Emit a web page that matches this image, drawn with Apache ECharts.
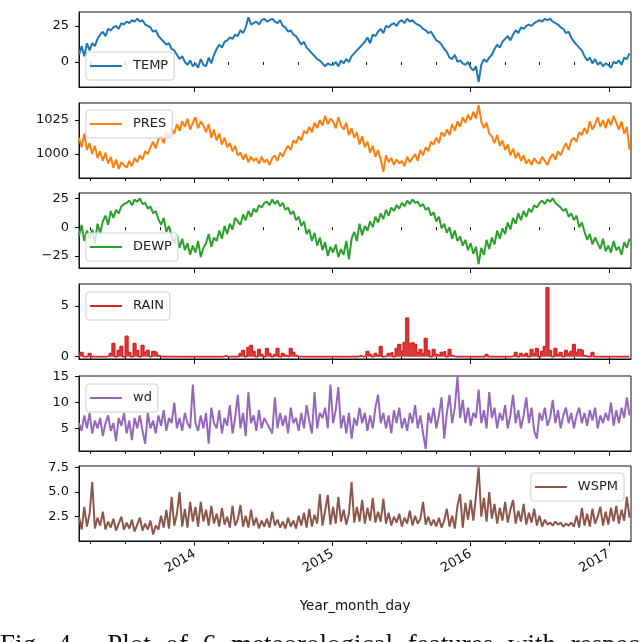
<!DOCTYPE html>
<html>
<head>
<meta charset="utf-8">
<script src="https://cdn.jsdelivr.net/npm/echarts@6/dist/echarts.min.js"></script>
<style>
  html, body { margin: 0; padding: 0; background: #fff; }
  #wrap { position: relative; width: 640px; height: 642px; overflow: hidden; }
  #chart { width: 640px; height: 642px; }
  #caption {
    position: absolute; left: 0; top: 631px;
    font: 27px/27px "Liberation Serif", "DejaVu Serif", serif;
    white-space: nowrap; word-spacing: 8px; color: #111;
  }
</style>
</head>
<body>
<div id="wrap">
  <div id="chart"></div>
  <div id="caption">Fig. 4.&nbsp; Plot of 6 meteorological features with respect to time</div>
</div>
<script>
// weekly samples, starting 2013-03-01 (7 days apart)
const temp = [
  5, 11, 4, 13, 8, 13, 11, 16, 19, 21, 18, 23, 22, 24, 25, 23, 27, 26, 28, 27, 29, 28,
  30, 28, 29, 26, 25, 24, 21, 22, 18, 16, 14, 12, 13, 9, 8, 5, 2, 4, 0, -2, 1, -3,
  // 2014
  -1, -4, 2, -2, -3, 3, -1, 5, 9, 12, 10, 14, 15, 17, 16, 19, 18, 22, 20, 24, 31, 26,
  27, 28, 26, 29, 30, 28, 29, 30, 28, 27, 29, 25, 24, 21, 22, 19, 18, 15, 12, 14, 10,
  8, 6, 4, 2, 1, -1, -3, -1, -2,
  // 2015
  -2, 0, -3, 1, -1, 2, 0, 4, 6, 8, 10, 12, 14, 17, 13, 19, 18, 21, 23, 20, 25, 24,
  26, 27, 25, 28, 29, 27, 30, 28, 29, 27, 26, 25, 23, 22, 20, 21, 18, 15, 14, 12, 9,
  7, 3, 2, 5, 0, 1, -1, -2, 0,
  // 2016
  -4, -6, -3, -14, -2, 2, 0, 3, 5, 9, 12, 10, 14, 16, 18, 15, 19, 22, 20, 24, 23, 25,
  26, 25, 27, 28, 29, 28, 30, 29, 30, 28, 27, 26, 24, 23, 20, 21, 17, 14, 12, 10, 8,
  4, 1, 3, -1, 2, -2, 0, -3, -1,
  // 2017
  -2, -4, 0, -1, 1, -2, 3, 2, 6
];
const pres = [
  1012, 1005, 1015, 1003, 1008, 1000, 1006, 997, 1002, 995, 1001, 993, 998, 990,
  996, 989, 994, 992, 990, 995, 991, 997, 994, 999, 996, 1002, 1000, 1005, 1009, 1004, 1011,
  1013, 1008, 1016, 1012, 1019, 1015, 1022, 1017, 1024, 1020, 1026, 1018, 1023,
  // 2014
  1027, 1019, 1024, 1021, 1016, 1022, 1012, 1018, 1010, 1015, 1007, 1012, 1005,
  1008, 1002, 1006, 999, 1001, 996, 1000, 994, 998, 995, 997, 993, 998, 994, 996, 992, 997,
  999, 995, 1001, 998, 1003, 1006, 1003, 1010, 1008, 1013, 1010, 1017, 1015,
  1020, 1016, 1023, 1019, 1025, 1021, 1028, 1022, 1026,
  // 2015
  1024, 1019, 1027, 1021, 1018, 1023, 1014, 1019, 1012, 1016, 1007, 1013, 1005,
  1009, 1001, 1006, 998, 1003, 996, 987, 999, 994, 997, 992, 996, 993, 995, 991, 998, 994,
  997, 1000, 995, 1003, 999, 1005, 1002, 1009, 1007, 1012, 1008, 1016, 1013,
  1018, 1014, 1022, 1017, 1024, 1020, 1027, 1023, 1029,
  // 2016
  1025, 1031, 1026, 1036, 1024, 1019, 1023, 1015, 1013, 1008, 1014, 1006, 1010,
  1003, 1007, 999, 1004, 997, 1001, 995, 999, 993, 996, 992, 997, 994, 993, 998, 995, 992,
  997, 1000, 996, 1002, 999, 1004, 1008, 1003, 1010, 1012, 1009, 1016, 1014,
  1019, 1015, 1024, 1018, 1022, 1027, 1020, 1025, 1019,
  // 2017
  1026, 1021, 1028, 1023, 1018, 1024, 1015, 1020, 1003
];
const dewp = [
  -8, 2, -12, -3, -10, -2, -14, 3, -5, 5, 10, 2, 14, 8, 15, 12, 18, 20, 21, 23, 19, 24,
  22, 25, 20, 21, 16, 18, 12, 14, 7, 2, 8, -4, 1, -8, -14, -6, -18, -10, -20, -14, -24, -16,
  // 2014
  -22, -12, -26, -18, -14, -6, -17, -9, -12, -3, -10, 1, -6, 3, -2, 8, 5, 2, 11, 6, 14, 9,
  16, 13, 19, 17, 21, 22, 19, 24, 20, 23, 18, 21, 15, 17, 11, 14, 6, 9, 1, 5, -6,
  -2, -12, -5, -16, -9, -20, -13, -25, -17,
  // 2015
  -22, -15, -26, -19, -24, -12, -28, -10, -4, -12, 3, -7, 1, -3, 5, 0, 9, 4, 12, 7, 15, 10,
  17, 14, 19, 16, 21, 18, 23, 20, 24, 21, 22, 18, 20, 15, 17, 10, 13, 5, 9, -1, 3,
  -5, 0, -10, -3, -12, -8, -16, -11, -20,
  // 2016
  -14, -23, -17, -32, -18, -24, -11, -19, -9, -15, -3, -10, -1, -6, 4, -2, 8, 3, 12, 6, 14, 9,
  16, 13, 19, 17, 21, 23, 20, 24, 22, 25, 21, 19, 17, 14, 16, 9, 12, 6, 10, 0, 4,
  -4, -11, -6, -15, -9, -14, -19, -10, -21,
  // 2017
  -16, -22, -12, -20, -17, -24, -13, -18, -10
];
const rain = [
  0, 0.4, 0, 0, 0.3, 0, 0, 0, 0, 0,
  0, 0.1, 0.3, 1.3, 0, 0.6, 1.0, 0, 2.0, 0.4,
  0, 1.3, 0.6, 0, 1.1, 0.4, 0.6, 0, 0.5, 0.4,
  0.1, 0, 0, 0, 0, 0, 0, 0, 0, 0,
  0, 0, 0, 0, 0, 0, 0, 0, 0, 0,
  0, 0, 0, 0, 0, 0.1, 0, 0, 0, 0,
  0, 0.3, 0.6, 0, 0.9, 1.1, 0.5, 0, 0.7, 0.2,
  0, 0.8, 0.3, 0, 0.2, 0.8, 0, 0.3, 0.1, 0,
  0.8, 0.4, 0.1, 0, 0, 0, 0, 0, 0, 0,
  0, 0, 0, 0, 0, 0, 0, 0, 0, 0,
  0, 0, 0, 0, 0, 0, 0.1, 0, 0.1, 0.5,
  0.2, 0, 0.3, 0.1, 1.0, 0, 0.1, 0.3, 0.4, 0,
  0.8, 1.2, 0.5, 1.4, 3.8, 1.3, 1.4, 1.2, 0.4, 0.7,
  0.3, 1.8, 0.6, 0, 0.7, 0.2, 0.1, 0.4, 0.5, 0,
  0.7, 0.1, 0, 0, 0, 0, 0, 0, 0, 0,
  0, 0, 0, 0, 0.2, 0, 0, 0, 0, 0,
  0, 0, 0, 0, 0.1, 0.4, 0, 0.3, 0.1, 0.3,
  0, 0.7, 0.3, 0.8, 0, 0.5, 1.0, 6.8, 0.6, 0,
  0.8, 0.2, 0.4, 0, 0.6, 0.3, 0.5, 1.2, 0.4, 0.7,
  0.6, 0.1, 0, 0, 0.4, 0, 0, 0, 0, 0,
  0, 0, 0, 0, 0, 0, 0, 0, 0
];
const wd = [
  6, 4.5, 7.5, 5, 8, 4, 6.5, 5, 7, 3.5, 6, 7.5, 4.5, 6, 2.5, 7, 5.5, 8, 4, 6.5,
  2.7, 7, 5, 7.5, 4.5, 2, 8, 5, 6.5, 4, 7.5, 5.5, 8.5, 4.5, 7, 6, 10, 5, 7, 4.5,
  8, 6, 5, 13.5,
  // 2014
  6, 4.5, 7.5, 5, 8, 2, 9, 6, 5, 8.5, 4, 7, 5.5, 9.5, 4, 7, 11.5, 5, 8, 3.5,
  12, 6, 7.5, 4.5, 8.5, 5, 7, 6, 5, 4, 11, 5, 8, 5.5, 7.5, 4, 9, 6, 7, 4.5,
  8, 5, 9.5, 6.5, 4, 12, 5, 8, 7, 9, 5, 13.5,
  // 2015
  6, 8.5, 13, 5, 7.5, 4, 8, 3, 7, 5.5, 9, 6, 8, 4.5, 7.5, 5, 9, 11.5, 6, 8,
  5, 7.5, 4, 8.5, 6, 9, 5, 7, 4.5, 8, 6, 9.5, 5, 7.5, 4, 1, 8, 6, 9, 5,
  7.5, 11, 3, 8, 11.5, 6, 9, 15, 7, 10.5, 6, 9,
  // 2016
  5.5, 8, 7, 12.5, 6, 8.5, 5, 12, 7, 9, 5, 8, 6.5, 9.5, 5, 7.5, 11.5, 6, 8.5, 5,
  7.5, 11, 6, 9, 4.5, 3, 8, 6.5, 9, 5.5, 7, 10.5, 6, 8.5, 5, 7.5, 9, 6, 8, 5,
  7.5, 9, 6, 8, 5.5, 8.5, 6.5, 9, 5, 7.5, 6, 8,
  // 2017
  6.5, 10, 5.5, 8.5, 6, 9, 7, 11, 7.5
];
const wspm = [
  2.5, 1.2, 3.5, 1.5, 2.8, 6, 1.3, 2.4, 1.6, 3, 1.2, 2, 1.4, 2.3, 1.1, 1.8, 2.5, 1.2, 1.9, 1.3,
  2.2, 1, 1.7, 2.4, 1.1, 1.8, 1.2, 2.1, 0.7, 1.6, 1.2, 2.6, 1.4, 3.2, 1.3, 4.5, 1.6, 2.8, 5, 1.5,
  3.3, 1.4, 4, 2,
  // 2014
  3.5, 1.5, 4, 2, 3.2, 1.6, 3.6, 1.8, 2.8, 1.5, 3.4, 1.7, 2.5, 1.4, 3.6, 1.6, 2.2, 3.7, 1.5, 2.6,
  1.4, 3.2, 1.6, 2.4, 1.3, 2.1, 1.5, 2.3, 1.4, 3, 1.6, 2.2, 1.4, 2, 1.3, 2.4, 1.5, 2.1, 1.3, 2.6,
  1.6, 2.9, 1.4, 3.3, 1.5, 2.7, 1.8, 4.8, 1.6, 3.1, 4.7, 1.7,
  // 2015
  3.5, 1.8, 4.5, 2, 3.2, 1.7, 2.8, 6, 1.9, 3.5, 2, 4.2, 1.8, 3.4, 2.1, 4.4, 1.9, 3, 2, 4.3,
  1.8, 2.9, 1.6, 2.5, 1.9, 2.8, 1.5, 2.4, 1.8, 3.1, 1.6, 2.6, 1.8, 2.3, 4, 1.7, 2.5, 1.6, 2.2, 1.5,
  2.4, 1.4, 2.1, 3.3, 1.5, 2.6, 1.3, 3.6, 4.8, 1.4, 3.9, 2.2,
  // 2016
  4.2, 2.1, 4.6, 7.5, 2.5, 4.4, 2, 5, 2.3, 3.8, 1.8, 3.4, 2.1, 4, 1.9, 3.2, 4.2, 1.8, 3.1, 2,
  3.8, 1.7, 2.9, 1.9, 3.3, 1.6, 2.6, 1.5, 2.2, 1.7, 1.9, 1.6, 2, 1.7, 1.9, 1.5, 1.8, 1.6, 1.9, 1.5,
  2.6, 1.4, 3.4, 1.6, 2.8, 1.5, 3.3, 1.8, 2.5, 3.5, 1.6, 3,
  // 2017
  1.7, 3.4, 2, 3.6, 1.8, 3.2, 2.1, 4.5, 2.4
];

const tempTicks = [0, 25];
const presTicks = [1000, 1025];
const dewpTicks = [-25, 0, 25];
const rainTicks = [0, 5];
const wdTicks = [5, 10, 15];
const wspmTicks = [2.5, 5, 7.5];
const yearLabels = [2014, 2015, 2016, 2017];

const DAY = 86400000;
const startTs = Date.UTC(2013, 2, 1);
const endTs = Date.UTC(2017, 1, 28);

const yearTs = yearLabels.map(y => Date.UTC(y, 0, 1));
const quarterTs = [];
for (let y = 2013; y <= 2017; y++) {
  for (let m = 0; m < 12; m += 3) {
    const t = Date.UTC(y, m, 1);
    if (t > startTs && t <= endTs) quarterTs.push(t);
  }
}

const fmtInt = v => (v < 0 ? '\u2212' + (-v) : String(v));
const fmtOne = v => v.toFixed(1);

const panels = [
  { name: 'TEMP', data: temp, ticks: tempTicks, min: -17.4, max: 34.7, color: '#1f77b4', fmt: fmtInt, legend: { left: 86, top: 52 } },
  { name: 'PRES', data: pres, ticks: presTicks, min: 982.4, max: 1037.5, color: '#ff7f0e', fmt: fmtInt, legend: { left: 86, top: 110 } },
  { name: 'DEWP', data: dewp, ticks: dewpTicks, min: -35.4, max: 29.6, color: '#2ca02c', fmt: fmtInt, legend: { left: 86, top: 233 } },
  { name: 'RAIN', data: rain, ticks: rainTicks, min: -0.23, max: 7.17, color: '#d62728', fmt: fmtInt, legend: { left: 86, top: 292 } },
  { name: 'wd', data: wd, ticks: wdTicks, min: 0.6, max: 15.14, color: '#9467bd', fmt: fmtInt, legend: { left: 86, top: 384 } },
  { name: 'WSPM', data: wspm, ticks: wspmTicks, min: 0.04, max: 7.63, color: '#8c564b', fmt: fmtOne, legend: { right: 16, top: 473 } }
];
const tops = [12, 103, 193, 284, 376, 466];
const font = 'DejaVu Sans';
const ink = '#111';

const grid = [], xAxis = [], yAxis = [], legend = [], series = [];
panels.forEach((p, k) => {
  const last = k === panels.length - 1;
  grid.push({
    left: 79, width: 552, top: tops[k], height: 75,
    show: true, borderColor: ink, borderWidth: 1, backgroundColor: 'transparent'
  });
  // minor (quarterly) ticks
  xAxis.push({
    gridIndex: k, type: 'value', position: 'bottom', offset: 0, min: startTs, max: endTs,
    axisLine: { show: false }, splitLine: { show: false },
    axisTick: { show: true, customValues: quarterTs, length: 3, lineStyle: { color: ink } },
    axisLabel: { show: false }
  });
  // major (yearly) ticks, labels on the bottom panel only
  xAxis.push({
    gridIndex: k, type: 'value', position: 'bottom', offset: 0, min: startTs, max: endTs,
    axisLine: { show: true, lineStyle: { color: ink } }, splitLine: { show: false },
    axisTick: { show: true, customValues: yearTs, length: 5, lineStyle: { color: ink } },
    axisLabel: {
      show: last, customValues: yearTs, rotate: 30, margin: 12,
      formatter: v => String(new Date(v).getUTCFullYear()),
      fontSize: 13, fontFamily: font, color: ink
    },
    name: last ? 'Year_month_day' : '', nameLocation: 'middle', nameGap: 58,
    nameTextStyle: { fontSize: 13.5, fontFamily: font, color: ink }
  });
  yAxis.push({
    gridIndex: k, type: 'value', position: 'left', min: p.min, max: p.max,
    axisLine: { show: true, lineStyle: { color: ink } }, splitLine: { show: false },
    axisTick: { show: true, customValues: p.ticks, length: 4, lineStyle: { color: ink } },
    axisLabel: { customValues: p.ticks, formatter: p.fmt, margin: 10, fontSize: 13, fontFamily: font, color: ink }
  });
  legend.push(Object.assign({
    data: [p.name], icon: 'rect', itemWidth: 32, itemHeight: 2,
    padding: [7, 6, 7, 4], selectedMode: false,
    backgroundColor: 'rgba(255,255,255,0.8)', borderColor: '#d0d0d0', borderWidth: 1, borderRadius: 3,
    textStyle: { fontSize: 13, fontFamily: font, color: '#222', lineHeight: 14, padding: [0, 0, 0, 6] }
  }, p.legend));
  const isRain = p.name === 'RAIN';
  series.push({
    name: p.name, type: 'line', xAxisIndex: 2 * k + 1, yAxisIndex: k,
    symbol: 'none', showSymbol: false,
    step: isRain ? 'middle' : false,
    areaStyle: isRain ? { color: p.color, opacity: 0.9, origin: 'auto' } : undefined,
    data: p.data.map((v, i) => [startTs + 7 * i * DAY, v]),
    lineStyle: { width: isRain ? 1.6 : 2, color: p.color }, itemStyle: { color: p.color }
  });
});

const chart = echarts.init(document.getElementById('chart'));
chart.setOption({ animation: false, grid, xAxis, yAxis, legend, series });
</script>
</body>
</html>
